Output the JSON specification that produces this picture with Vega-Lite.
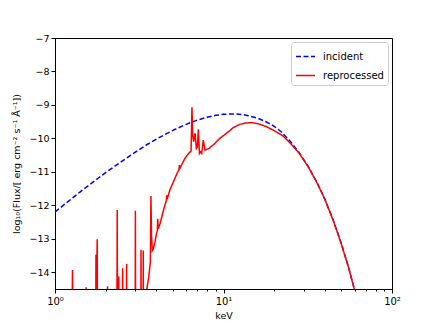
{
  "$schema": "https://vega.github.io/schema/vega-lite/v6.json",
  "autosize": "none",
  "width": 337,
  "height": 251,
  "padding": {"left": 55, "top": 38, "right": 44, "bottom": 37},
  "background": "white",
  "config": {
    "view": {"stroke": "black", "strokeWidth": 1},
    "font": "DejaVu Sans",
    "axis": {"domainColor": "black", "tickColor": "black", "labelColor": "black", "titleColor": "black", "grid": false, "labelFont": "DejaVu Sans", "titleFont": "DejaVu Sans", "titleFontWeight": "normal", "labelFontSize": 9.5, "titleFontSize": 9.5}
  },
  "data": {"values": [
    {"series": "incident", "E": 1.0, "flux": -12.2},
    {"series": "incident", "E": 1.2, "flux": -11.88},
    {"series": "incident", "E": 1.4, "flux": -11.61},
    {"series": "incident", "E": 1.6, "flux": -11.39},
    {"series": "incident", "E": 1.8, "flux": -11.19},
    {"series": "incident", "E": 2.0, "flux": -11.02},
    {"series": "incident", "E": 2.5, "flux": -10.68},
    {"series": "incident", "E": 3.0, "flux": -10.41},
    {"series": "incident", "E": 3.5, "flux": -10.19},
    {"series": "incident", "E": 4.0, "flux": -10.02},
    {"series": "incident", "E": 5.0, "flux": -9.76},
    {"series": "incident", "E": 6.0, "flux": -9.58},
    {"series": "incident", "E": 7.0, "flux": -9.45},
    {"series": "incident", "E": 8.0, "flux": -9.37},
    {"series": "incident", "E": 9.0, "flux": -9.31},
    {"series": "incident", "E": 10.0, "flux": -9.28},
    {"series": "incident", "E": 11.0, "flux": -9.27},
    {"series": "incident", "E": 12.0, "flux": -9.27},
    {"series": "incident", "E": 13.0, "flux": -9.29},
    {"series": "incident", "E": 14.0, "flux": -9.32},
    {"series": "incident", "E": 16.0, "flux": -9.4},
    {"series": "incident", "E": 18.0, "flux": -9.51},
    {"series": "incident", "E": 20.0, "flux": -9.64},
    {"series": "incident", "E": 22.0, "flux": -9.8},
    {"series": "incident", "E": 25.0, "flux": -10.1},
    {"series": "incident", "E": 28.0, "flux": -10.41},
    {"series": "incident", "E": 32.0, "flux": -10.86},
    {"series": "incident", "E": 36.0, "flux": -11.33},
    {"series": "incident", "E": 40.0, "flux": -11.82},
    {"series": "incident", "E": 45.0, "flux": -12.47},
    {"series": "incident", "E": 50.0, "flux": -13.14},
    {"series": "incident", "E": 55.0, "flux": -13.82},
    {"series": "incident", "E": 60.0, "flux": -14.53},
    {"series": "incident", "E": 65.0, "flux": -15.25},
    {"series": "reprocessed", "E": 1.0, "flux": -16},
    {"series": "reprocessed", "E": 1.26, "flux": -16},
    {"series": "reprocessed", "E": 1.27, "flux": -13.93},
    {"series": "reprocessed", "E": 1.28, "flux": -16},
    {"series": "reprocessed", "E": 1.52, "flux": -16},
    {"series": "reprocessed", "E": 1.53, "flux": -14.45},
    {"series": "reprocessed", "E": 1.54, "flux": -16},
    {"series": "reprocessed", "E": 1.745, "flux": -16},
    {"series": "reprocessed", "E": 1.75, "flux": -13.48},
    {"series": "reprocessed", "E": 1.765, "flux": -14.4},
    {"series": "reprocessed", "E": 1.78, "flux": -13.01},
    {"series": "reprocessed", "E": 1.79, "flux": -16},
    {"series": "reprocessed", "E": 2.04, "flux": -16},
    {"series": "reprocessed", "E": 2.05, "flux": -14.42},
    {"series": "reprocessed", "E": 2.06, "flux": -16},
    {"series": "reprocessed", "E": 2.33, "flux": -16},
    {"series": "reprocessed", "E": 2.34, "flux": -12.14},
    {"series": "reprocessed", "E": 2.35, "flux": -16},
    {"series": "reprocessed", "E": 2.38, "flux": -16},
    {"series": "reprocessed", "E": 2.39, "flux": -14.13},
    {"series": "reprocessed", "E": 2.4, "flux": -16},
    {"series": "reprocessed", "E": 2.51, "flux": -16},
    {"series": "reprocessed", "E": 2.52, "flux": -13.88},
    {"series": "reprocessed", "E": 2.53, "flux": -16},
    {"series": "reprocessed", "E": 2.65, "flux": -16},
    {"series": "reprocessed", "E": 2.66, "flux": -13.75},
    {"series": "reprocessed", "E": 2.67, "flux": -16},
    {"series": "reprocessed", "E": 2.99, "flux": -16},
    {"series": "reprocessed", "E": 3.0, "flux": -12.16},
    {"series": "reprocessed", "E": 3.01, "flux": -16},
    {"series": "reprocessed", "E": 3.23, "flux": -16},
    {"series": "reprocessed", "E": 3.24, "flux": -13.33},
    {"series": "reprocessed", "E": 3.25, "flux": -16},
    {"series": "reprocessed", "E": 3.33, "flux": -16},
    {"series": "reprocessed", "E": 3.34, "flux": -13.35},
    {"series": "reprocessed", "E": 3.35, "flux": -16},
    {"series": "reprocessed", "E": 3.45, "flux": -15.2},
    {"series": "reprocessed", "E": 3.52, "flux": -14.45},
    {"series": "reprocessed", "E": 3.6, "flux": -14.15},
    {"series": "reprocessed", "E": 3.68, "flux": -13.7},
    {"series": "reprocessed", "E": 3.71, "flux": -11.72},
    {"series": "reprocessed", "E": 3.74, "flux": -12.9},
    {"series": "reprocessed", "E": 3.78, "flux": -13.35},
    {"series": "reprocessed", "E": 3.83, "flux": -13.3},
    {"series": "reprocessed", "E": 3.92, "flux": -13.1},
    {"series": "reprocessed", "E": 4.0, "flux": -12.85},
    {"series": "reprocessed", "E": 4.05, "flux": -12.75},
    {"series": "reprocessed", "E": 4.07, "flux": -12.4},
    {"series": "reprocessed", "E": 4.1, "flux": -12.7},
    {"series": "reprocessed", "E": 4.2, "flux": -12.55},
    {"series": "reprocessed", "E": 4.4, "flux": -12.15},
    {"series": "reprocessed", "E": 4.58, "flux": -11.85},
    {"series": "reprocessed", "E": 4.6, "flux": -11.7},
    {"series": "reprocessed", "E": 4.63, "flux": -11.82},
    {"series": "reprocessed", "E": 4.8, "flux": -11.55},
    {"series": "reprocessed", "E": 5.04, "flux": -11.3},
    {"series": "reprocessed", "E": 5.3, "flux": -11.05},
    {"series": "reprocessed", "E": 5.45, "flux": -10.92},
    {"series": "reprocessed", "E": 5.47, "flux": -10.8},
    {"series": "reprocessed", "E": 5.5, "flux": -10.9},
    {"series": "reprocessed", "E": 5.9, "flux": -10.6},
    {"series": "reprocessed", "E": 6.2, "flux": -10.45},
    {"series": "reprocessed", "E": 6.42, "flux": -10.38},
    {"series": "reprocessed", "E": 6.5, "flux": -9.07},
    {"series": "reprocessed", "E": 6.56, "flux": -9.9},
    {"series": "reprocessed", "E": 6.65, "flux": -10.1},
    {"series": "reprocessed", "E": 6.78, "flux": -9.85},
    {"series": "reprocessed", "E": 6.9, "flux": -10.3},
    {"series": "reprocessed", "E": 7.0, "flux": -10.25},
    {"series": "reprocessed", "E": 7.09, "flux": -9.73},
    {"series": "reprocessed", "E": 7.2, "flux": -10.45},
    {"series": "reprocessed", "E": 7.3, "flux": -10.4},
    {"series": "reprocessed", "E": 7.42, "flux": -10.45},
    {"series": "reprocessed", "E": 7.59, "flux": -10.05},
    {"series": "reprocessed", "E": 7.77, "flux": -10.35},
    {"series": "reprocessed", "E": 8.2, "flux": -10.3},
    {"series": "reprocessed", "E": 8.8, "flux": -10.17},
    {"series": "reprocessed", "E": 9.5, "flux": -10.0},
    {"series": "reprocessed", "E": 10.4, "flux": -9.85},
    {"series": "reprocessed", "E": 11.4, "flux": -9.68},
    {"series": "reprocessed", "E": 12.5, "flux": -9.58},
    {"series": "reprocessed", "E": 13.5, "flux": -9.54},
    {"series": "reprocessed", "E": 14.7, "flux": -9.53},
    {"series": "reprocessed", "E": 16.0, "flux": -9.56},
    {"series": "reprocessed", "E": 18.0, "flux": -9.65},
    {"series": "reprocessed", "E": 20.0, "flux": -9.77},
    {"series": "reprocessed", "E": 22.6, "flux": -9.93},
    {"series": "reprocessed", "E": 25.0, "flux": -10.15},
    {"series": "reprocessed", "E": 28.0, "flux": -10.43},
    {"series": "reprocessed", "E": 32.0, "flux": -10.87},
    {"series": "reprocessed", "E": 36.0, "flux": -11.34},
    {"series": "reprocessed", "E": 40.0, "flux": -11.83},
    {"series": "reprocessed", "E": 45.0, "flux": -12.48},
    {"series": "reprocessed", "E": 50.0, "flux": -13.15},
    {"series": "reprocessed", "E": 55.0, "flux": -13.83},
    {"series": "reprocessed", "E": 60.0, "flux": -14.54},
    {"series": "reprocessed", "E": 65.0, "flux": -15.26}
  ]},
  "layer": [
    {
      "mark": {"type": "line", "clip": true, "strokeWidth": 1.5},
      "encoding": {
        "x": {"field": "E", "type": "quantitative", "scale": {"type": "log", "domain": [1, 100], "nice": false},
          "axis": {"title": "keV", "values": [1, 10, 100], "tickSize": 4, "labelExpr": "datum.value == 1 ? '10⁰' : datum.value == 10 ? '10¹' : '10²'", "labelPadding": 3, "titlePadding": 4, "labelFlush": false, "labelFontSize": 10}},
        "y": {"field": "flux", "type": "quantitative", "scale": {"domain": [-14.5, -7], "nice": false, "zero": false},
          "axis": {"title": "log₁₀(Flux/[ erg cm⁻² s⁻¹ Å⁻¹])", "values": [-14, -13, -12, -11, -10, -9, -8, -7], "tickSize": 4, "labelPadding": 2, "titlePadding": 7}},
        "color": {"field": "series", "type": "nominal", "scale": {"domain": ["incident", "reprocessed"], "range": ["#0000ff", "#ff0000"]},
          "legend": {"title": null, "orient": "top-right", "offset": 4, "symbolType": "stroke", "symbolSize": 361, "symbolStrokeWidth": 1.5, "labelFontSize": 10, "labelFont": "DejaVu Sans", "strokeColor": "#cccccc", "padding": 4, "cornerRadius": 3, "fillColor": "white", "rowPadding": 3, "labelOffset": 7}},
        "strokeDash": {"field": "series", "type": "nominal", "scale": {"domain": ["incident", "reprocessed"], "range": [[5, 2.5], [1, 0]]}, "legend": null}
      }
    },
    {
      "data": {"values": [{"E": 1}]},
      "mark": {"type": "point", "opacity": 0},
      "encoding": {
        "x": {"field": "E", "type": "quantitative", "scale": {"type": "log", "domain": [1, 100], "nice": false},
          "axis": {"orient": "bottom", "title": null, "values": [2, 3, 4, 5, 6, 7, 8, 9, 20, 30, 40, 50, 60, 70, 80, 90], "labels": false, "tickSize": 2, "domain": false}}
      }
    }
  ],
  "resolve": {"axis": {"x": "independent"}}
}
